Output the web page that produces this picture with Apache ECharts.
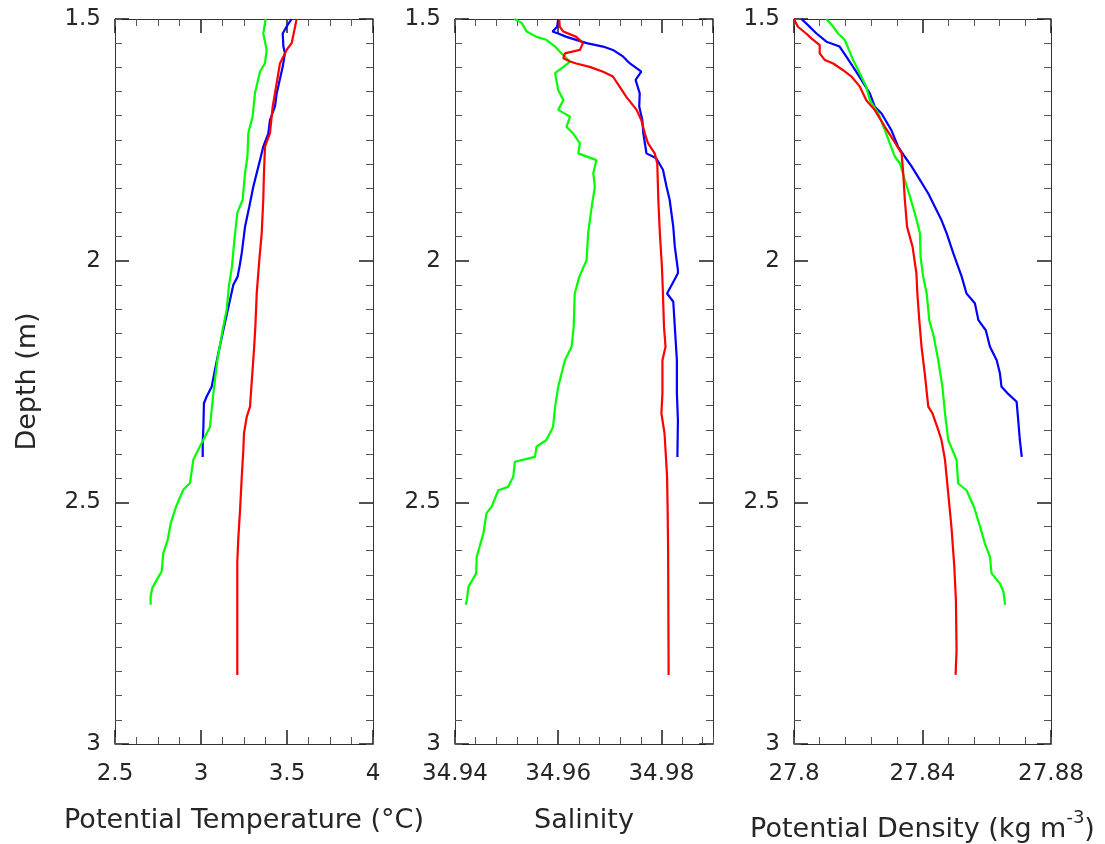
<!DOCTYPE html>
<html><head><meta charset="utf-8">
<script src="https://cdn.jsdelivr.net/npm/echarts@6/dist/echarts.min.js"></script>
<style>html,body{margin:0;padding:0;background:#fff}#c{width:1105px;height:844px}</style>
</head><body><div id="c"></div>
<script>
// ---- Data: each entry is [depth, value] ----
const tempBlue = [[1.500,3.527],[1.512,3.504],[1.530,3.475],[1.557,3.479],[1.571,3.488],[1.599,3.475],[1.654,3.440],[1.681,3.430],[1.709,3.401],[1.737,3.391],[1.764,3.362],[1.792,3.343],[1.847,3.304],[1.888,3.281],[1.930,3.256],[1.984,3.237],[2.010,3.225],[2.033,3.213],[2.050,3.188],[2.081,3.169],[2.137,3.134],[2.191,3.101],[2.226,3.081],[2.261,3.062],[2.281,3.033],[2.295,3.017],[2.344,3.014],[2.377,3.010],[2.406,3.010]];
const tempGreen = [[1.500,3.376],[1.530,3.362],[1.564,3.382],[1.591,3.372],[1.609,3.343],[1.653,3.314],[1.702,3.300],[1.736,3.275],[1.785,3.270],[1.819,3.256],[1.874,3.242],[1.901,3.211],[1.957,3.194],[2.012,3.180],[2.050,3.163],[2.102,3.149],[2.143,3.126],[2.206,3.095],[2.274,3.072],[2.344,3.052],[2.377,3.004],[2.412,2.955],[2.460,2.936],[2.474,2.897],[2.509,2.855],[2.543,2.824],[2.578,2.806],[2.605,2.781],[2.643,2.771],[2.661,2.742],[2.677,2.717],[2.695,2.707],[2.712,2.707]];
const tempRed = [[1.500,3.556],[1.523,3.543],[1.550,3.527],[1.564,3.498],[1.592,3.459],[1.633,3.440],[1.681,3.417],[1.736,3.401],[1.764,3.372],[1.819,3.366],[1.874,3.362],[1.943,3.353],[1.999,3.339],[2.067,3.324],[2.137,3.316],[2.185,3.308],[2.240,3.297],[2.302,3.285],[2.323,3.266],[2.357,3.250],[2.392,3.246],[2.447,3.237],[2.516,3.227],[2.574,3.217],[2.623,3.211],[2.857,3.211]];

const salBlue = [[1.500,34.9600],[1.516,34.9598],[1.526,34.9589],[1.530,34.9600],[1.537,34.9616],[1.550,34.9655],[1.557,34.9687],[1.564,34.9706],[1.578,34.9726],[1.592,34.9739],[1.609,34.9761],[1.626,34.9750],[1.654,34.9758],[1.681,34.9757],[1.709,34.9763],[1.737,34.9765],[1.757,34.9768],[1.778,34.9771],[1.788,34.9790],[1.812,34.9803],[1.847,34.9810],[1.874,34.9816],[1.930,34.9823],[1.971,34.9826],[2.019,34.9832],[2.026,34.9832],[2.044,34.9823],[2.068,34.9811],[2.085,34.9823],[2.137,34.9826],[2.206,34.9830],[2.274,34.9830],[2.330,34.9832],[2.406,34.9831]];
const salGreen = [[1.500,34.9515],[1.508,34.9529],[1.526,34.9539],[1.537,34.9558],[1.543,34.9577],[1.557,34.9594],[1.571,34.9606],[1.588,34.9623],[1.599,34.9610],[1.612,34.9594],[1.647,34.9600],[1.668,34.9610],[1.688,34.9600],[1.702,34.9623],[1.723,34.9616],[1.737,34.9629],[1.757,34.9642],[1.778,34.9639],[1.792,34.9674],[1.819,34.9668],[1.847,34.9671],[1.888,34.9665],[1.943,34.9658],[1.999,34.9655],[2.033,34.9641],[2.068,34.9632],[2.137,34.9630],[2.178,34.9626],[2.206,34.9613],[2.261,34.9600],[2.302,34.9594],[2.344,34.9590],[2.371,34.9577],[2.385,34.9558],[2.406,34.9555],[2.416,34.9516],[2.447,34.9513],[2.468,34.9503],[2.475,34.9484],[2.509,34.9471],[2.523,34.9461],[2.564,34.9455],[2.613,34.9442],[2.647,34.9441],[2.675,34.9426],[2.702,34.9423],[2.712,34.9421]];
const salRed = [[1.500,34.9602],[1.516,34.9603],[1.526,34.9610],[1.537,34.9635],[1.550,34.9648],[1.564,34.9642],[1.571,34.9613],[1.581,34.9610],[1.588,34.9623],[1.592,34.9635],[1.599,34.9661],[1.609,34.9687],[1.619,34.9706],[1.640,34.9719],[1.661,34.9732],[1.688,34.9752],[1.709,34.9761],[1.737,34.9768],[1.757,34.9774],[1.778,34.9787],[1.799,34.9792],[1.874,34.9794],[1.943,34.9797],[2.012,34.9801],[2.068,34.9803],[2.137,34.9805],[2.178,34.9808],[2.206,34.9802],[2.274,34.9802],[2.316,34.9800],[2.357,34.9806],[2.392,34.9808],[2.447,34.9811],[2.509,34.9812],[2.599,34.9813],[2.857,34.9814]];

const denBlue = [[1.500,27.8023],[1.509,27.8038],[1.530,27.8070],[1.547,27.8101],[1.557,27.8142],[1.578,27.8163],[1.599,27.8184],[1.626,27.8210],[1.654,27.8236],[1.681,27.8251],[1.695,27.8272],[1.730,27.8303],[1.764,27.8324],[1.785,27.8345],[1.805,27.8366],[1.833,27.8392],[1.861,27.8418],[1.888,27.8438],[1.916,27.8459],[1.943,27.8475],[1.985,27.8496],[2.033,27.8522],[2.068,27.8537],[2.088,27.8563],[2.123,27.8574],[2.144,27.8597],[2.178,27.8610],[2.206,27.8631],[2.233,27.8641],[2.261,27.8646],[2.274,27.8664],[2.292,27.8693],[2.330,27.8698],[2.371,27.8703],[2.406,27.8709]];
const denGreen = [[1.500,27.8101],[1.516,27.8122],[1.530,27.8137],[1.543,27.8158],[1.564,27.8171],[1.585,27.8184],[1.606,27.8200],[1.640,27.8225],[1.668,27.8236],[1.695,27.8262],[1.730,27.8283],[1.757,27.8298],[1.785,27.8314],[1.799,27.8330],[1.833,27.8345],[1.861,27.8358],[1.902,27.8376],[1.943,27.8392],[1.992,27.8394],[2.033,27.8402],[2.068,27.8413],[2.123,27.8421],[2.157,27.8435],[2.206,27.8449],[2.261,27.8462],[2.316,27.8470],[2.371,27.8480],[2.412,27.8506],[2.461,27.8511],[2.475,27.8537],[2.509,27.8560],[2.550,27.8579],[2.585,27.8594],[2.613,27.8610],[2.647,27.8615],[2.668,27.8641],[2.685,27.8652],[2.712,27.8657]];
const denRed = [[1.500,27.8000],[1.516,27.8012],[1.530,27.8038],[1.540,27.8054],[1.554,27.8080],[1.571,27.8080],[1.585,27.8096],[1.592,27.8122],[1.606,27.8153],[1.619,27.8179],[1.640,27.8205],[1.668,27.8225],[1.688,27.8251],[1.723,27.8283],[1.750,27.8309],[1.778,27.8335],[1.819,27.8340],[1.874,27.8345],[1.930,27.8352],[1.971,27.8369],[2.026,27.8381],[2.068,27.8384],[2.123,27.8390],[2.178,27.8397],[2.233,27.8407],[2.302,27.8418],[2.316,27.8431],[2.350,27.8449],[2.371,27.8459],[2.412,27.8470],[2.481,27.8480],[2.550,27.8490],[2.633,27.8499],[2.702,27.8504],[2.806,27.8506],[2.857,27.8503]];

// axis ranges: [min, max, major step, minor step]
const depthAxis = [1.5, 3, 0.5, 0.05];
const tempAxis = [2.5, 4, 0.5, 0.125];
const salAxis = [34.94, 34.99, 0.02, 0.004];
const denAxis = [27.8, 27.88, 0.04, 0.008];
const axisTitles = ['Potential Temperature (°C)', 'Salinity', '{a|Potential Density (kg m}{b|-3}{a|)}'];
const yTitle = 'Depth (m)';

const FONT = 'DejaVu Sans';
const TXT = '#262626';
const FRAME = '#333';
const panels = [
  {left:115, right:732, ax:tempAxis, series:[tempBlue,tempGreen,tempRed], showMax:true, gap:63},
  {left:455, right:392, ax:salAxis, series:[salBlue,salGreen,salRed], showMax:false, gap:63},
  {left:794, right:54, ax:denAxis, series:[denBlue,denGreen,denRed], showMax:true, gap:65}
];
const colors = ['#0000ff', '#00ff00', '#ff0000'];

const grid = [], xAxis = [], yAxis = [], series = [];
panels.forEach((p, i) => {
  grid.push({left:p.left, right:p.right, top:19, bottom:100, containLabel:false, outerBoundsMode:'none'});
  const [xmin, xmax, xmaj, xmin2] = p.ax;
  const base = {gridIndex:i, type:'value', min:xmin, max:xmax, splitLine:{show:false}, silent:true};
  xAxis.push(Object.assign({}, base, {
    position:'bottom', interval:xmaj,
    axisLine:{show:true, lineStyle:{color:FRAME, width:1}},
    axisTick:{show:true, inside:true, length:14, lineStyle:{color:'#1a1a1a', width:1.5}},
    axisLabel:{show:true, margin:19, fontFamily:FONT, fontSize:23, color:TXT, showMinLabel:true, showMaxLabel:p.showMax},
    name:axisTitles[i], nameLocation:'middle', nameGap:p.gap,
    nameTextStyle:{fontFamily:FONT, fontSize:27, color:TXT,
      rich:{a:{fontFamily:FONT, fontSize:27, color:TXT, lineHeight:34, verticalAlign:'bottom'},
            b:{fontFamily:FONT, fontSize:18, color:TXT, lineHeight:18, verticalAlign:'top'}}}
  }));
  xAxis.push(Object.assign({}, base, {
    position:'bottom', interval:xmin2,
    axisLine:{show:false}, axisLabel:{show:false},
    axisTick:{show:true, inside:true, length:7, lineStyle:{color:'#555', width:1}}
  }));
  xAxis.push(Object.assign({}, base, {
    position:'top', interval:xmaj,
    axisLine:{show:true, lineStyle:{color:FRAME, width:1}},
    axisTick:{show:true, inside:true, length:14, lineStyle:{color:'#1a1a1a', width:1.5}},
    axisLabel:{show:false}
  }));
  xAxis.push(Object.assign({}, base, {
    position:'top', interval:xmin2,
    axisLine:{show:false}, axisLabel:{show:false},
    axisTick:{show:true, inside:true, length:7, lineStyle:{color:'#555', width:1}}
  }));

  const [ymin, ymax, ymaj, ymin2] = depthAxis;
  const ybase = {gridIndex:i, type:'value', min:ymin, max:ymax, inverse:true, splitLine:{show:false}, silent:true};
  yAxis.push(Object.assign({}, ybase, {
    position:'left', interval:ymaj,
    axisLine:{show:true, lineStyle:{color:FRAME, width:1}},
    axisTick:{show:true, inside:true, length:14, lineStyle:{color:'#1a1a1a', width:1.5}},
    axisLabel:{show:true, margin:14, fontFamily:FONT, fontSize:23, color:TXT, showMinLabel:true, showMaxLabel:true},
    name: i === 0 ? yTitle : '', nameLocation:'middle', nameGap:74, nameRotate:90,
    nameTextStyle:{fontFamily:FONT, fontSize:27, color:TXT}
  }));
  yAxis.push(Object.assign({}, ybase, {
    position:'left', interval:ymin2,
    axisLine:{show:false}, axisLabel:{show:false},
    axisTick:{show:true, inside:true, length:7, lineStyle:{color:'#555', width:1}}
  }));
  yAxis.push(Object.assign({}, ybase, {
    position:'right', interval:ymaj,
    axisLine:{show:true, lineStyle:{color:FRAME, width:1}},
    axisTick:{show:true, inside:true, length:14, lineStyle:{color:'#1a1a1a', width:1.5}},
    axisLabel:{show:false}
  }));
  yAxis.push(Object.assign({}, ybase, {
    position:'right', interval:ymin2,
    axisLine:{show:false}, axisLabel:{show:false},
    axisTick:{show:true, inside:true, length:7, lineStyle:{color:'#555', width:1}}
  }));

  p.series.forEach((arr, k) => {
    series.push({
      type:'line', xAxisIndex:4*i, yAxisIndex:4*i,
      data: arr.map(d => [d[1], d[0]]),
      showSymbol:false, symbol:'none', smooth:false,
      lineStyle:{color:colors[k], width:2.2},
      z: 3 + k
    });
  });
});

const chart = echarts.init(document.getElementById('c'), null, {renderer:'canvas'});
chart.setOption({animation:false, backgroundColor:'#ffffff', grid, xAxis, yAxis, series});
</script></body></html>
